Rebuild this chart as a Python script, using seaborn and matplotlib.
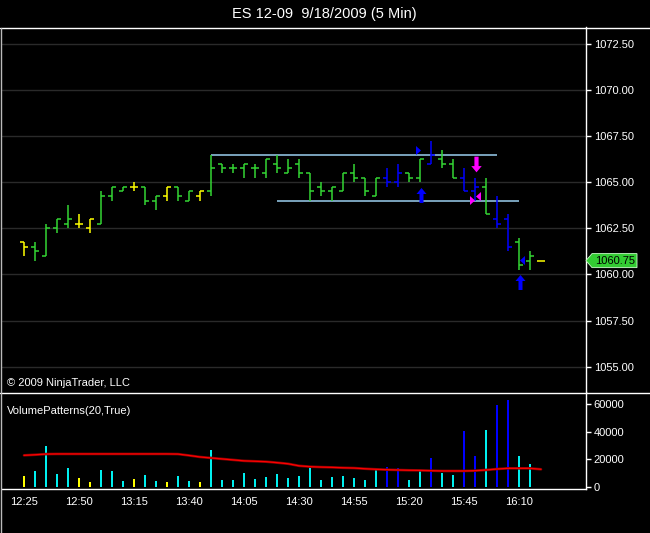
import matplotlib
matplotlib.use("Agg")
import matplotlib.pyplot as plt
from matplotlib.lines import Line2D
from matplotlib.path import Path
from matplotlib.patches import Polygon
import seaborn as sns
import numpy as np
import pandas as pd

# ---------------- data ----------------
times = ["12:25", "12:30", "12:35", "12:40", "12:45", "12:50", "12:55", "13:00", "13:05", "13:10",
         "13:15", "13:20", "13:25", "13:30", "13:35", "13:40", "13:45", "13:50", "13:55", "14:00",
         "14:05", "14:10", "14:15", "14:20", "14:25", "14:30", "14:35", "14:40", "14:45", "14:50",
         "14:55", "15:00", "15:05", "15:10", "15:15", "15:20", "15:25", "15:30", "15:35", "15:40",
         "15:45", "15:50", "15:55", "16:00", "16:05", "16:10", "16:15", "16:20"]

opens = [1061.75, 1061.5, 1061.0, 1062.5, 1062.75, 1062.75, 1062.5, 1062.75, 1064.25, 1064.5,
         1064.75, 1064.75, 1064.0, 1064.25, 1064.75, 1064.0, 1064.25, 1064.5, 1066.0, 1065.75,
         1065.75, 1065.75, 1065.5, 1066.0, 1065.5, 1066.0, 1065.5, 1064.75, 1064.5, 1064.5,
         1065.5, 1065.25, 1064.25, 1065.25, 1065.0, 1065.5, 1065.25, 1066.0, 1066.25, 1066.0,
         1065.25, 1064.5, 1064.75, 1063.0, 1063.0, 1061.75, 1060.75, 1060.75]
highs = [1061.75, 1061.75, 1062.75, 1063.0, 1063.75, 1063.25, 1063.0, 1064.5, 1064.75, 1064.75,
         1065.0, 1064.75, 1064.25, 1064.75, 1064.75, 1064.5, 1064.5, 1066.5, 1066.0, 1066.0,
         1066.0, 1066.0, 1066.25, 1066.5, 1066.25, 1066.25, 1065.5, 1065.0, 1064.75, 1065.5,
         1066.0, 1065.25, 1065.25, 1065.75, 1066.0, 1065.5, 1066.25, 1067.25, 1066.75, 1066.25,
         1065.75, 1065.25, 1065.25, 1064.25, 1063.25, 1062.0, 1061.25, 1060.75]
lows = [1061.0, 1060.75, 1061.0, 1062.25, 1062.5, 1062.5, 1062.25, 1062.75, 1064.0, 1064.5,
        1064.5, 1063.75, 1063.5, 1064.0, 1064.0, 1064.0, 1064.0, 1064.25, 1065.5, 1065.5,
        1065.25, 1065.25, 1065.25, 1065.5, 1065.5, 1065.25, 1064.0, 1064.25, 1064.0, 1064.5,
        1065.0, 1064.25, 1064.25, 1064.75, 1064.75, 1065.0, 1065.0, 1066.0, 1065.75, 1065.25,
        1064.5, 1064.0, 1063.25, 1062.5, 1061.25, 1060.25, 1060.25, 1060.75]
closes = [1061.5, 1061.25, 1062.5, 1063.0, 1063.0, 1062.75, 1063.0, 1064.25, 1064.75, 1064.75,
          1064.75, 1064.0, 1064.25, 1064.75, 1064.25, 1064.5, 1064.5, 1065.75, 1065.75, 1065.75,
          1066.0, 1065.75, 1066.25, 1065.75, 1065.75, 1065.5, 1064.5, 1064.5, 1064.75, 1065.5,
          1065.25, 1064.5, 1065.25, 1065.0, 1065.5, 1065.25, 1066.25, 1066.5, 1066.0, 1065.25,
          1064.5, 1064.75, 1063.25, 1062.75, 1061.5, 1060.5, 1061.0, 1060.75]

# volume pattern class: L = low volume, N = normal, H = high volume
vol_class = ["L", "N", "N", "N", "N", "L", "L", "N", "N", "N",
             "L", "N", "N", "L", "N", "N", "L", "N", "N", "N",
             "N", "N", "N", "N", "N", "N", "N", "N", "N", "N",
             "N", "N", "N", "H", "H", "N", "N", "H", "N", "N",
             "H", "H", "N", "H", "H", "N", "N", "L"]

volumes = [8000, 11500, 29500, 9400, 13700, 6500, 3600, 12300, 11500, 4300,
           5800, 8700, 4300, 3600, 8000, 4300, 3600, 26700, 5100, 5100,
           10100, 5800, 7200, 9400, 6500, 8000, 14500, 5100, 7200, 8000,
           6500, 5100, 13000, 14500, 13700, 5100, 11600, 21000, 10100, 8700,
           40500, 22400, 41200, 59300, 62900, 22400, 16600, 0]

vol_avg = [22900, 23300, 23800, 23900, 23900, 23900, 23900, 23900, 23900, 23900,
           23900, 23900, 23900, 23900, 23800, 22800, 21700, 21000, 20300, 19600,
           18900, 18600, 18300, 17600, 16800, 15300, 14700, 14400, 14200, 13900,
           13700, 13200, 12800, 12500, 12300, 12100, 12000, 11800, 11600, 11600,
           11600, 11800, 12300, 13000, 13500, 13500, 13500, 12800]

# horizontal range lines: (start bar, end bar, price)
range_start = [17, 23]
range_end = [43, 45]
range_price = [1066.5, 1064.0]

# signal markers: bar position, price, kind, colour group
sig_pos = [35.8, 36.05, 41.05, 40.75, 41.3, 45.3, 45.06]
sig_price = [1066.72, 1064.30, 1065.99, 1064.01, 1064.24, 1060.76, 1059.57]
sig_kind = ["tri_right", "arrow_up", "arrow_down", "tri_right", "tri_left", "tri_left", "arrow_up"]
sig_group = ["H", "H", "M", "M", "M", "H", "H"]

last_price = 1060.75
price_ticks = [1055.0, 1057.5, 1060.0, 1062.5, 1065.0, 1067.5, 1070.0, 1072.5]
vol_ticks = [0, 20000, 40000, 60000]
time_tick_every = 5

# ---------------- style ----------------
sns.set_style("dark")
plt.rcParams["font.family"] = ["Liberation Sans", "DejaVu Sans"]
plt.rcParams["axes.facecolor"] = "black"
plt.rcParams["figure.facecolor"] = "black"

price_col = {"L": "#FFFF00", "N": "#33D633", "H": "#0000FF"}
vol_col = {"L": "#FFFF00", "N": "#00F0F0", "H": "#0000FF"}
sig_col = {"H": "#0000FF", "M": "#FF00FF"}

W, H = 650, 533
fig = plt.figure(figsize=(6.5, 5.33), dpi=100)

def fx(px):
    return px / W

def fy(py):
    return (H - py) / H

ax1 = fig.add_axes([fx(2), fy(392), fx(586) - fx(2), fy(27) - fy(392)])
ax2 = fig.add_axes([fx(2), fy(489), fx(586) - fx(2), fy(392) - fy(489)])

n = len(times)
idx = np.arange(n)
xlim = (-2.0, 51.09)

# ---------------- price panel ----------------
ax1.set_facecolor("black")
ax1.set_xlim(*xlim)
ax1.set_ylim(1053.63, 1073.41)
ax1.set_yticks(price_ticks)
ax1.set_yticklabels([f"{p:.2f}" for p in price_ticks])
ax1.yaxis.tick_right()
ax1.set_xticks([])
ax1.grid(False)
for p in price_ticks:
    ax1.axhline(p, color="#2a2a2a", lw=1.0, zorder=0)

cols = [price_col[c] for c in vol_class]
tick_len = 0.32
ax1.vlines(idx, lows, highs, colors=cols, lw=1.1, zorder=3)
ax1.hlines(opens, idx - tick_len, idx, colors=cols, lw=1.1, zorder=3)
ax1.hlines(closes, idx, idx + tick_len, colors=cols, lw=1.1, zorder=3)

for s, e, p in zip(range_start, range_end, range_price):
    ax1.hlines(p, s, e, colors="#9ACFF0", lw=1.1, zorder=2)

# marker shapes
up_arrow = Path([(0, 7.5), (5, 1.5), (2, 1.5), (2, -7.5), (-2, -7.5), (-2, 1.5), (-5, 1.5), (0, 7.5)],
                closed=True)
down_arrow = Path([(0, -7.5), (5, -1.5), (2, -1.5), (2, 7.5), (-2, 7.5), (-2, -1.5), (-5, -1.5), (0, -7.5)],
                  closed=True)
tri_r = Path([(-2.5, -4.5), (2.5, 0), (-2.5, 4.5), (-2.5, -4.5)], closed=True)
tri_l = Path([(2.5, -4.5), (-2.5, 0), (2.5, 4.5), (2.5, -4.5)], closed=True)
shapes = {"arrow_up": (up_arrow, 10.8), "arrow_down": (down_arrow, 11.3),
          "tri_right": (tri_r, 6.5), "tri_left": (tri_l, 6.5)}
for xp, yp, k, g in zip(sig_pos, sig_price, sig_kind, sig_group):
    path, ms = shapes[k]
    ax1.plot([xp], [yp], marker=path, ms=ms, linestyle="none", color=sig_col[g], mew=0, zorder=5)

# last price marker
axw = 584.0
poly = Polygon([(1.0, last_price), (1 + 6 / axw, last_price + 0.38), (1 + 51 / axw, last_price + 0.38),
                (1 + 51 / axw, last_price - 0.38), (1 + 6 / axw, last_price - 0.38)],
               closed=True, facecolor="#33CC33", edgecolor="#CCFFCC", lw=0.6,
               transform=ax1.get_yaxis_transform(), clip_on=False, zorder=10)
ax1.add_patch(poly)
ax1.text(1 + 29 / axw, last_price, f"{last_price:.2f}", transform=ax1.get_yaxis_transform(),
         ha="center", va="center", fontsize=8, color="black", clip_on=False, zorder=11)

ax1.tick_params(axis="y", colors="white", labelcolor="white", labelsize=8, length=3.6, width=1, pad=2,
                right=True, left=False)
for sp in ["top", "bottom", "left"]:
    ax1.spines[sp].set_visible(False)
ax1.spines["right"].set_color("white")
ax1.spines["right"].set_linewidth(1)

ax1.text(5 / axw, (392 - 382.7) / 365, "© 2009 NinjaTrader, LLC", transform=ax1.transAxes,
         ha="left", va="center", fontsize=8, color="white")

# ---------------- volume panel ----------------
df = pd.DataFrame({"bar": idx, "volume": volumes, "cls": vol_class})
sns.barplot(data=df, x="bar", y="volume", hue="cls", palette=vol_col, dodge=False,
            native_scale=True, width=0.27, legend=False, ax=ax2, saturation=1, linewidth=0)
dfa = pd.DataFrame({"bar": idx, "avg": vol_avg})
sns.lineplot(data=dfa, x="bar", y="avg", color="#800000", lw=1.9, ax=ax2, zorder=4)
sns.lineplot(data=dfa, x="bar", y="avg", color="#FF0000", lw=0.9, ax=ax2, zorder=5)

ax2.set_facecolor("black")
ax2.set_xlim(*xlim)
ax2.set_ylim(-1446, 68675)
ax2.set_yticks(vol_ticks)
ax2.set_yticklabels([str(v) for v in vol_ticks])
ax2.yaxis.tick_right()
tpos = idx[::time_tick_every]
ax2.set_xticks(tpos)
ax2.set_xticklabels([times[i] for i in tpos])
ax2.set_xlabel("")
ax2.set_ylabel("")
ax2.grid(False)
ax2.tick_params(axis="y", colors="white", labelcolor="white", labelsize=8, length=3.6, width=1, pad=2,
                right=True, left=False)
ax2.tick_params(axis="x", colors="white", labelcolor="white", labelsize=8, length=3.6, width=1, pad=2)
for sp in ["top", "left"]:
    ax2.spines[sp].set_visible(False)
for sp in ["right", "bottom"]:
    ax2.spines[sp].set_color("white")
    ax2.spines[sp].set_linewidth(1)

ax2.text(5 / axw, (489 - 410.7) / 97, "VolumePatterns(20,True)", transform=ax2.transAxes,
         ha="left", va="center", fontsize=8, color="white")

# ---------------- frame & title ----------------
fig.add_artist(Line2D([0, 1], [fy(27.5), fy(27.5)], color="white", lw=1, transform=fig.transFigure))
fig.add_artist(Line2D([0, 1], [fy(392.5), fy(392.5)], color="white", lw=1, transform=fig.transFigure))
fig.add_artist(Line2D([fx(0.5), fx(0.5)], [fy(27.5), 0], color="#BBBBBB", lw=1, transform=fig.transFigure))

fig.text(fx(324), fy(14), "ES 12-09  9/18/2009 (5 Min)", ha="center", va="center", fontsize=10.5,
         color="white")

fig.savefig("out.png", dpi=100, facecolor="black")
